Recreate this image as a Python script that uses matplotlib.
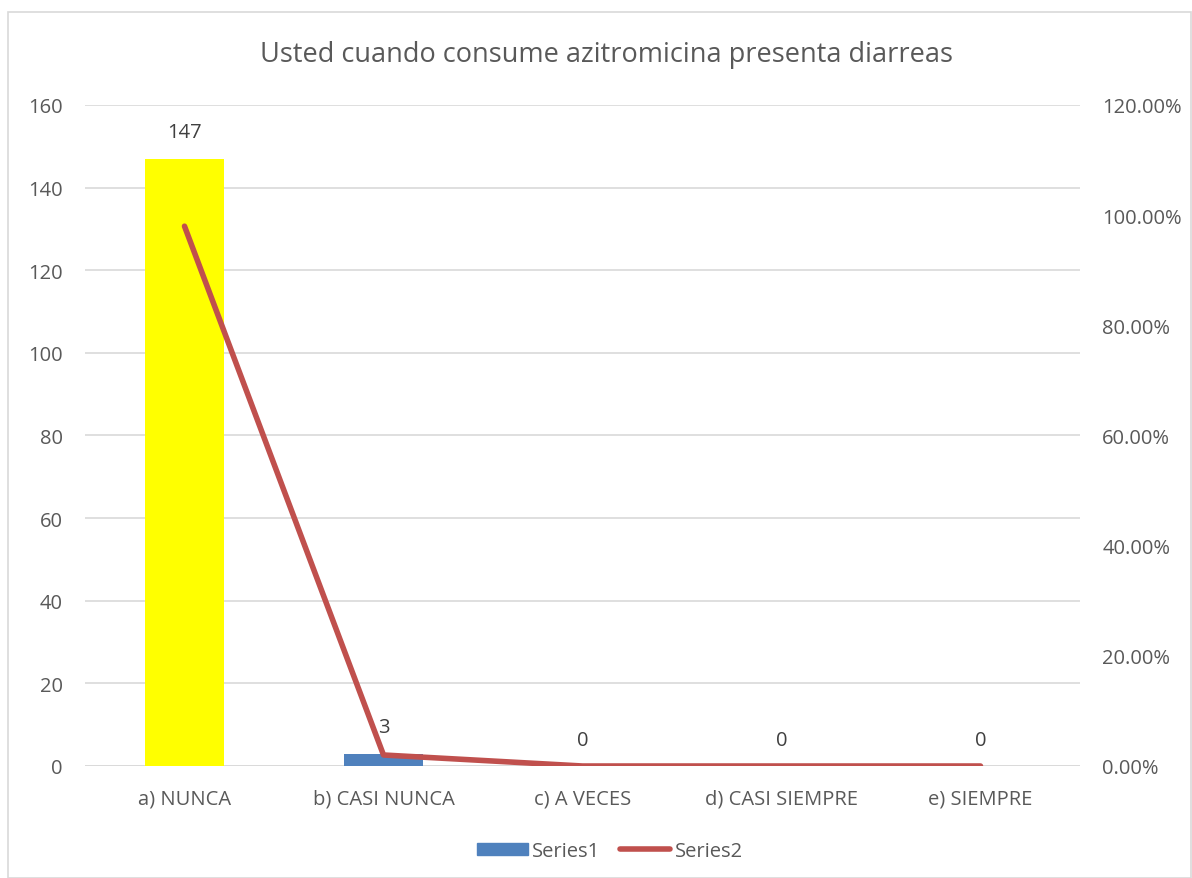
import matplotlib.pyplot as plt
import matplotlib.patches as mpatches
from matplotlib.lines import Line2D
from matplotlib.ticker import FuncFormatter

categorias = ["a) NUNCA", "b) CASI NUNCA", "c) A VECES", "d) CASI SIEMPRE", "e) SIEMPRE"]
frecuencia = [147, 3, 0, 0, 0]
porcentaje = [0.98, 0.02, 0.0, 0.0, 0.0]
colores_barras = ["#FFFF00", "#4F81BD", "#4F81BD", "#4F81BD", "#4F81BD"]

gris = "#595959"
plt.rcParams["font.family"] = ["Open Sans", "DejaVu Sans"]

fig = plt.figure(figsize=(11.92, 8.79), dpi=100)
ax = fig.add_axes([85 / 1192, 112 / 879, 995 / 1192, 661 / 879])

x = list(range(len(categorias)))
ax.bar(x, frecuencia, width=0.4, color=colores_barras, zorder=2)
for xi, v in zip(x, frecuencia):
    ax.annotate(str(v), (xi, v), xytext=(0, 19), textcoords="offset points",
                ha="center", va="center", fontsize=14.5, color="#404040")

ax.set_xlim(-0.5, len(categorias) - 0.5)
ax.set_ylim(0, 160)
ax.set_yticks(range(0, 161, 20))
ax.set_xticks(x)
ax.set_xticklabels(categorias)
ax.grid(axis="y", color="#D9D9D9", linewidth=1.2, zorder=0)
ax.tick_params(length=0, labelsize=14.5, colors=gris)
ax.tick_params(axis="x", pad=16)
ax.tick_params(axis="y", pad=16)
for s in ax.spines.values():
    s.set_visible(False)
ax.axhline(0, color="#D9D9D9", linewidth=1.2, zorder=1)

ax2 = ax.twinx()
ax2.plot(x, porcentaje, color="#C0504D", linewidth=4, solid_capstyle="round", zorder=3)
ax2.set_ylim(0, 1.2)
ax2.set_yticks([0, 0.2, 0.4, 0.6, 0.8, 1.0, 1.2])
ax2.yaxis.set_major_formatter(FuncFormatter(lambda v, p: f"{v * 100:.2f}%"))
ax2.tick_params(length=0, labelsize=14.5, colors=gris, pad=16)
for s in ax2.spines.values():
    s.set_visible(False)

fig.text(606 / 1192, 1 - 55 / 879, "Usted cuando consume azitromicina presenta diarreas",
         ha="center", va="center", fontsize=19.5, color=gris)

handles = [mpatches.Patch(color="#4F81BD", label="Series1"),
           Line2D([0], [0], color="#C0504D", linewidth=4, solid_capstyle="round", label="Series2")]
fig.legend(handles=handles, loc="center", bbox_to_anchor=(610 / 1192, 1 - 852 / 879), ncol=2,
           frameon=False, fontsize=14.5, labelcolor=gris, handlelength=2.5, handleheight=0.6,
           handletextpad=0.2, columnspacing=1.0)

fig.patches.append(mpatches.Rectangle((8 / 1192, 0), 1183 / 1192, 1 - 13 / 879, transform=fig.transFigure,
                                      fill=False, edgecolor="#D9D9D9", linewidth=1.2))

fig.savefig("out.png", dpi=100)
